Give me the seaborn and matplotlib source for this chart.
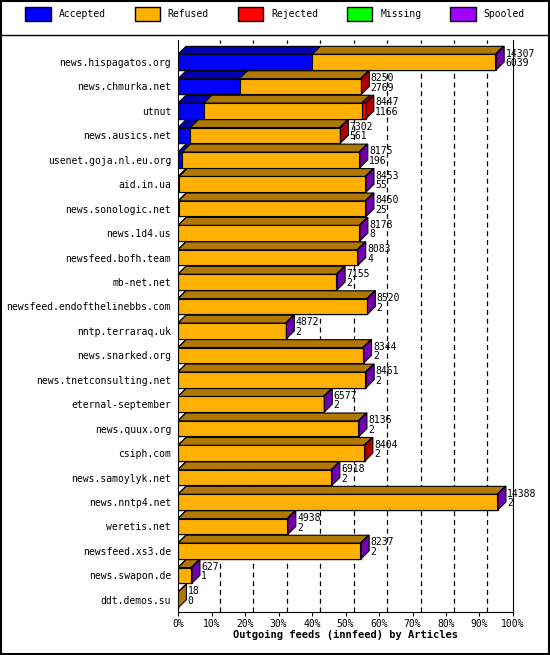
import matplotlib
matplotlib.use("Agg")
import matplotlib.pyplot as plt
import seaborn as sns
import numpy as np
import pandas as pd
from matplotlib.patches import Polygon, Rectangle, Patch

hosts = ["news.hispagatos.org","news.chmurka.net","utnut","news.ausics.net","usenet.goja.nl.eu.org",
         "aid.in.ua","news.sonologic.net","news.1d4.us","newsfeed.bofh.team","mb-net.net",
         "newsfeed.endofthelinebbs.com","nntp.terraraq.uk","news.snarked.org","news.tnetconsulting.net",
         "eternal-september","news.quux.org","csiph.com","news.samoylyk.net","news.nntp4.net",
         "weretis.net","newsfeed.xs3.de","news.swapon.de","ddt.demos.su"]
totals = [14307,8250,8447,7302,8175,8453,8450,8178,8083,7155,8520,4872,8344,8461,6577,8136,8404,6918,14388,4938,8237,627,18]
accepted = [6039,2769,1166,561,196,55,25,8,4,2,2,2,2,2,2,2,2,2,2,2,2,1,0]
rejected = [0,40,180,30,0,0,0,0,0,0,0,0,0,0,0,0,30,0,0,0,0,0,0]
missing = [0]*23
spooled = [30,0,0,0,30,30,30,30,30,30,30,30,30,30,30,30,0,30,30,30,30,30,0]
seg_names = ["Accepted","Refused","Rejected","Missing","Spooled"]
colors = ["#0000ff","#ffb000","#ff0000","#00ff00","#a000ff"]
sides = ["#0000b0","#b07800","#b00000","#00b000","#7000b0"]

acc = np.array(accepted, float); rej = np.array(rejected, float); mis = np.array(missing, float)
spo = np.array(spooled, float); tot = np.array(totals, float)
ref = tot - acc - rej - mis - spo
segs = np.vstack([acc, ref, rej, mis, spo])
cum = np.cumsum(segs, axis=0)

plt.rcParams['font.family'] = ['DejaVu Sans Mono']
fig = plt.figure(figsize=(5.5, 6.55), dpi=100)
ax = fig.add_axes([178/550, 43/655, 335/550, 572/655])
xmax = 15065
H = 0.64
for i in range(4, -1, -1):
    df = pd.DataFrame({"host": hosts, "v": cum[i]})
    sns.barplot(data=df, x="v", y="host", orient="h", color=colors[i], width=H,
                edgecolor="black", linewidth=0.8, saturation=1, ax=ax, zorder=3)
dx = 8 * xmax / 335
dy = 8 / 24.95
for j in range(len(hosts)):
    yt = j - H / 2
    left = 0
    last = 1
    for i in range(5):
        w = segs[i, j]
        if w > 0:
            ax.add_patch(Polygon([(left, yt), (left + dx, yt - dy), (left + w + dx, yt - dy), (left + w, yt)],
                                 closed=True, fc=sides[i], ec="black", lw=0.8, zorder=4))
            last = i
        left += w
    t = tot[j]
    ax.add_patch(Polygon([(t, yt), (t + dx, yt - dy), (t + dx, yt + H - dy), (t, yt + H)],
                         closed=True, fc=sides[last], ec="black", lw=0.8, zorder=4))
    ax.text(t + dx + 60, j - 0.15, f"{totals[j]}\n{accepted[j]}", fontsize=7, va="center",
            ha="left", linespacing=0.95, zorder=5)

ax.set_xlim(0, xmax)
ax.set_ylim(len(hosts) - 0.5, -0.9)
ticks = np.linspace(0, xmax, 11)
ax.set_xticks(ticks)
ax.set_xticklabels([f"{k}%" for k in range(0, 101, 10)], fontsize=7)
for x in ticks[1:-1]:
    ax.axvline(x + dx, color="black", ls=(0, (4, 3)), lw=0.9, zorder=1)
ax.tick_params(axis="y", length=0, labelsize=7, pad=5)
ax.tick_params(axis="x", length=3, pad=2)
ax.set_ylabel("")
ax.set_xlabel("Outgoing feeds (innfeed) by Articles", fontsize=7.5, fontweight="bold", labelpad=1)
ax.spines["top"].set_visible(False)

handles = [Patch(fc=c, ec="black", label=n) for c, n in zip(colors, seg_names)]
fig.legend(handles=handles, loc="upper center", bbox_to_anchor=(0.5, 1.0), ncol=5, frameon=False,
           fontsize=7, handlelength=2.6, handleheight=1.8, columnspacing=3.0, borderaxespad=0.3)
fig.add_artist(plt.Line2D([0, 1], [1 - 35/655] * 2, color="black", lw=1, transform=fig.transFigure))
fig.add_artist(Rectangle((0.001, 0.001), 0.997, 0.997, fill=False, ec="black", lw=1.5, transform=fig.transFigure))
fig.savefig("out.png", dpi=100)
